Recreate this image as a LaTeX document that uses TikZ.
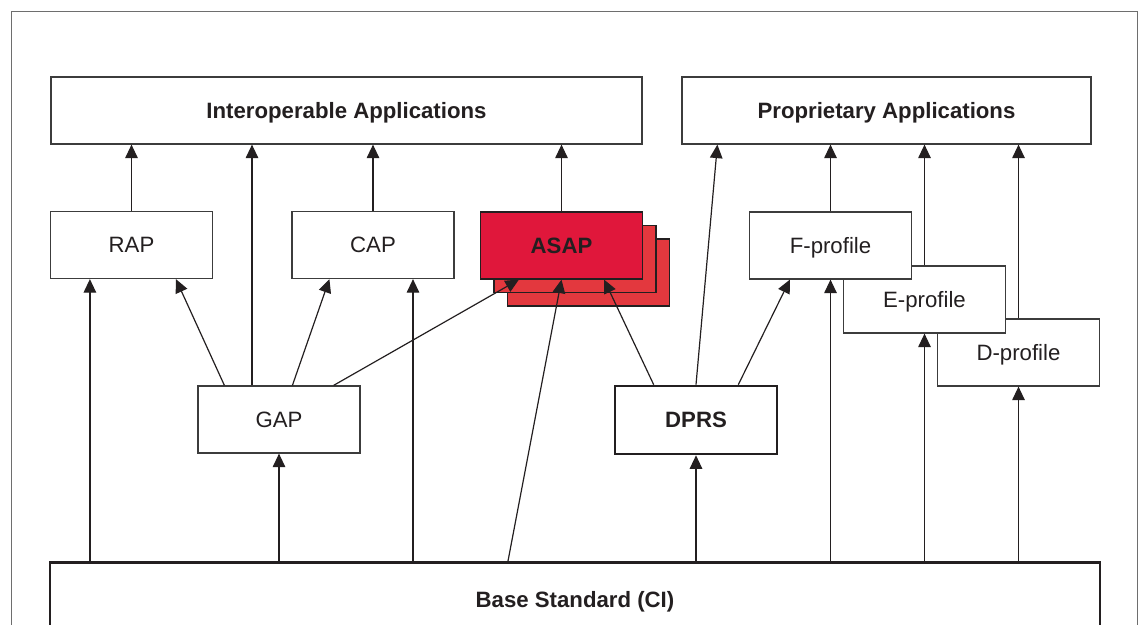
\documentclass[tikz,border=0pt]{standalone}
\usepackage{fontspec}
\setmainfont{Liberation Sans}
\usetikzlibrary{arrows.meta,calc}
\definecolor{ink}{HTML}{231F20}
\definecolor{edge}{HTML}{3C3C3C}
\definecolor{asapfront}{HTML}{E0173B}
\definecolor{asapback}{HTML}{E3383E}
\definecolor{framegray}{HTML}{6E6E6E}
\begin{document}
\begin{tikzpicture}[x=1pt,y=-1pt,
  box/.style={draw=edge, line width=1.2pt, fill=white, inner sep=0pt,
    minimum width=162pt, minimum height=67pt, text depth=0pt,
    font=\fontsize{22.2}{26}\selectfont, text=ink},
  boldbox/.style={box, font=\fontsize{22.2}{26}\selectfont\bfseries},
  heavy/.style={draw=ink, line width=2.6pt},
  redbox/.style={box, fill=asapback, draw=ink},
  arr/.style={draw=ink, line width=1.2pt, -{Triangle[length=13.5pt,width=12.5pt]}},
]
\path[use as bounding box, clip] (0,0) rectangle (1143,624);

% outer frame, open at the bottom
\draw[framegray, line width=1pt] (11,640) -- (11,11) -- (1137,11) -- (1137,640);

% application layer
\node[boldbox, minimum width=591pt] (interop) at (346.5,110.5) {Interoperable Applications};
\node[boldbox, minimum width=409pt] (prop) at (886.5,110.5) {Proprietary Applications};

% profiles
\node[box] (rap) at (131.5,245) {RAP};
\node[box] (cap) at (373,245) {CAP};

\node[redbox] (asap3) at (588.5,272.5) {};
\node[redbox] (asap2) at (575,259) {};
\node[boldbox, fill=asapfront, draw=ink] (asap) at (561.5,245.5) {ASAP};

\node[box] (dprof) at (1018.5,352.5) {D-profile};
\node[box] (eprof) at (924.5,299.5) {E-profile};
\node[box] (fprof) at (830.5,245.5) {F-profile};

\node[box] (gap) at (279,419.5) {GAP};
\node[boldbox, heavy, minimum height=68pt] (dprs) at (696,420) {DPRS};

% base standard, running off the bottom edge
\node[boldbox, heavy, minimum width=1050pt, minimum height=74pt, anchor=north]
  (base) at (575,561) {Base Standard (CI)};

% links into the application layer
\draw[arr] (rap.north) -- (rap.north |- interop.south);
\draw[arr] ([xshift=-27pt]gap.north) -- ([xshift=-27pt]gap.north |- interop.south);
\draw[arr] (cap.north) -- (cap.north |- interop.south);
\draw[arr] (asap.north) -- (asap.north |- interop.south);
\draw[arr] (dprs.north) -- ([xshift=36pt]prop.south west);
\draw[arr] (fprof.north) -- (fprof.north |- prop.south);
\draw[arr] (eprof.north) -- (eprof.north |- prop.south);
\draw[arr] (dprof.north) -- (dprof.north |- prop.south);

% links from the base standard
\coordinate (rapin) at ([xshift=40pt]rap.south west);
\coordinate (capin) at ([xshift=40pt]cap.south);
\draw[arr] (base.north -| rapin) -- (rapin);
\draw[arr] (base.north -| gap.south) -- (gap.south);
\draw[arr] (base.north -| capin) -- (capin);
\draw[arr] ([xshift=-67pt]base.north) -- (asap.south);
\draw[arr] (base.north -| dprs.south) -- (dprs.south);
\draw[arr] (base.north -| fprof.south) -- (fprof.south);
\draw[arr] (base.north -| eprof.south) -- (eprof.south);
\draw[arr] (base.north -| dprof.south) -- (dprof.south);

% links from GAP
\draw[arr] ([xshift=27pt]gap.north west) -- ([xshift=126pt]rap.south west);
\draw[arr] ([xshift=95pt]gap.north west) -- ([xshift=38pt]cap.south west);
\draw[arr] ([xshift=-27pt]gap.north east) -- ([xshift=39pt]asap.south west);

% links from DPRS
\draw[arr] ([xshift=40pt]dprs.north west) -- ([xshift=-39pt]asap.south east);
\draw[arr] ([xshift=-40pt]dprs.north east) -- ([xshift=41pt]fprof.south west);
\end{tikzpicture}
\end{document}
